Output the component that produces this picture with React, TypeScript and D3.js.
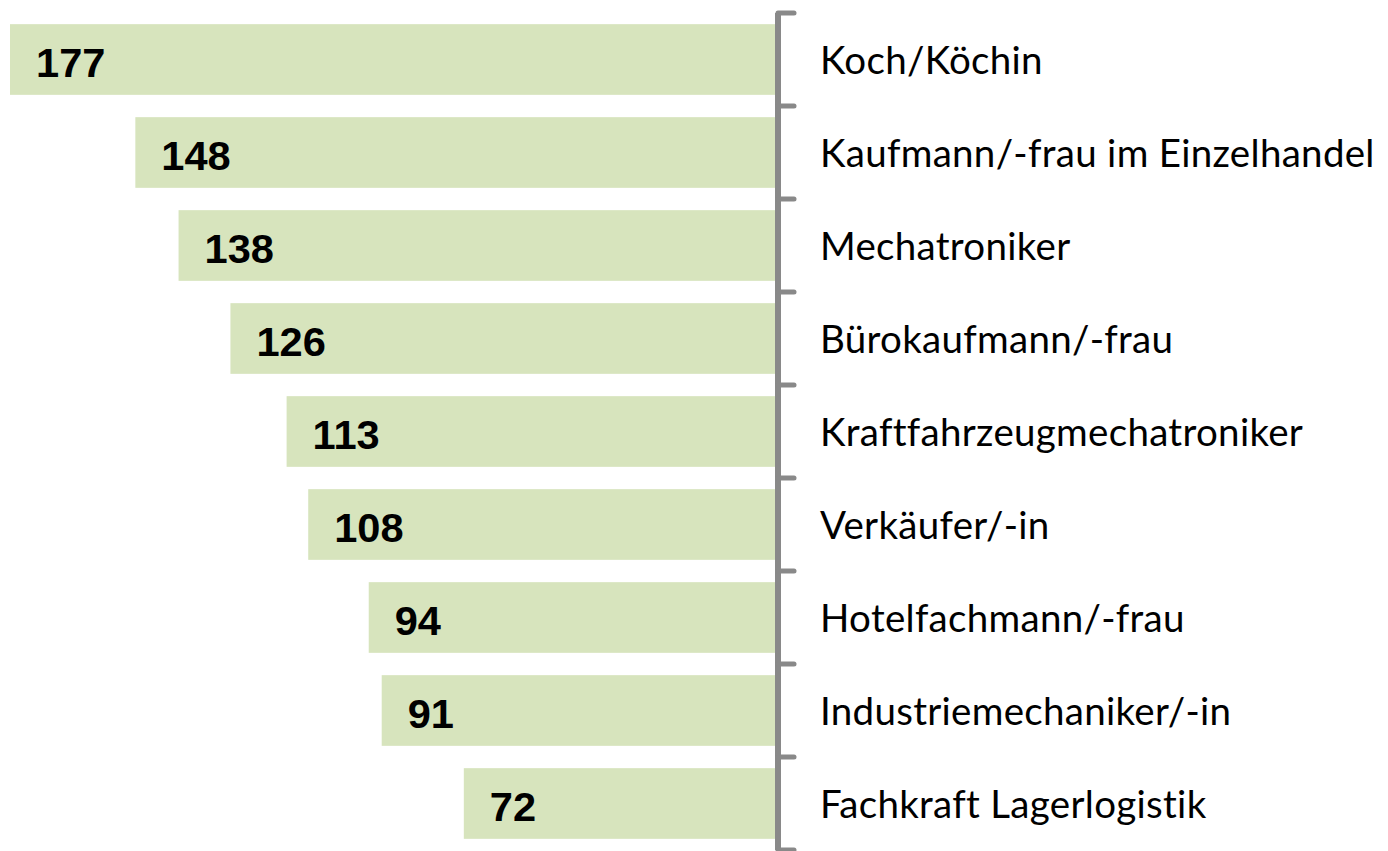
import React from "react";
import * as d3 from "d3";

const categories = [
  "Koch/Köchin",
  "Kaufmann/-frau im Einzelhandel",
  "Mechatroniker",
  "Bürokaufmann/-frau",
  "Kraftfahrzeugmechatroniker",
  "Verkäufer/-in",
  "Hotelfachmann/-frau",
  "Industriemechaniker/-in",
  "Fachkraft Lagerlogistik",
];
const values = [177, 148, 138, 126, 113, 108, 94, 91, 72];

const W = 1388;
const H = 851;
const AXIS_X = 778;
const BAR_RIGHT = 775;

export default function App() {
  const x = d3.scaleLinear().domain([0, 177]).range([BAR_RIGHT, 10]);
  const y = d3
    .scaleBand<string>()
    .domain(categories)
    .range([13, 850])
    .paddingInner(0.24)
    .paddingOuter(0.12);
  const step = y.step();
  const top = 13;
  const ticks = d3.range(categories.length + 1).map((i) => top + i * step);

  return (
    <svg
      width={W}
      height={H}
      style={{ position: "absolute", left: 0, top: 0, background: "#fff" }}
    >
      {categories.map((c, i) => {
        const x0 = x(values[i]);
        const by = y(c)!;
        const cy = by + y.bandwidth() / 2;
        return (
          <g key={c}>
            <rect
              x={x0}
              y={by}
              width={BAR_RIGHT - x0}
              height={y.bandwidth()}
              fill="#d7e4bd"
            />
            <text
              transform={`translate(${x0 + 26},${cy + 17}) scale(1.04,1)`}
              fontFamily="'Liberation Sans', Arial, sans-serif"
              fontWeight="bold"
              fontSize={40}
              fill="#000"
            >
              {values[i]}
            </text>
            <text
              x={820}
              y={top + (i + 0.5) * step + 14.5}
              fontFamily="Lato, 'Noto Sans', sans-serif"
              fontSize={38.5}
              letterSpacing={0.3}
              fill="#000"
            >
              {c}
            </text>
          </g>
        );
      })}
      <line
        x1={AXIS_X}
        x2={AXIS_X}
        y1={top}
        y2={ticks[ticks.length - 1]}
        stroke="#898989"
        strokeWidth={6}
      />
      {ticks.map((t, i) => (
        <line
          key={i}
          x1={AXIS_X}
          x2={794}
          y1={t}
          y2={t}
          stroke="#898989"
          strokeWidth={5}
          strokeLinecap="round"
        />
      ))}
    </svg>
  );
}
